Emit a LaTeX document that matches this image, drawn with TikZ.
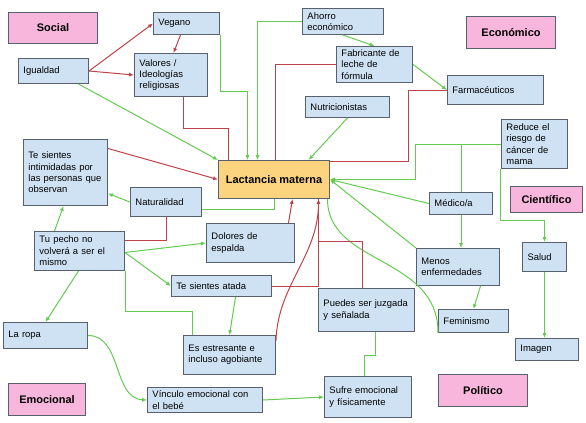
\documentclass[tikz,border=0pt]{standalone}
\usepackage{fontspec}
\setmainfont{Liberation Sans}
\usepackage{tikz}
\usetikzlibrary{arrows.meta}
\definecolor{boxblue}{RGB}{207,226,243}
\definecolor{boxline}{RGB}{88,96,110}
\definecolor{catpink}{RGB}{248,182,220}
\definecolor{mainorange}{RGB}{252,212,128}
\definecolor{lgreen}{RGB}{100,202,80}
\definecolor{dred}{RGB}{190,66,74}

\begin{document}
\begin{tikzpicture}[x=0.025cm, y=-0.025cm,
  cbox/.style={draw=boxline, line width=0.71pt, fill=boxblue, align=left,
    inner xsep=0.125cm, inner ysep=0pt, font=\fontsize{6.7}{8.1}\selectfont},
  cat/.style={draw=boxline, line width=0.71pt, fill=catpink, align=center,
    inner sep=0pt, font=\fontsize{7.8}{9}\selectfont\bfseries},
  gl/.style={draw=lgreen, line width=0.71pt},
  rl/.style={draw=dred, line width=0.71pt},
  tip/.style={-{Latex[length=3.5pt,width=3pt]}}]
\useasboundingbox (-0.5,-0.5) rectangle (585.5,421.5);
% ---- categories
\node[cat, minimum width=2.225cm, minimum height=0.775cm] (social) at (52.5,27.5) {Social};
\node[cat, minimum width=2.225cm, minimum height=0.8cm] (economico) at (510.5,32) {Económico};
\node[cat, minimum width=1.8cm, minimum height=0.65cm] (cientifico) at (546,199) {Científico};
\node[cat, minimum width=1.925cm, minimum height=0.8cm] (emocional) at (46.5,399) {Emocional};
\node[cat, minimum width=2.225cm, minimum height=0.8cm] (politico) at (482.5,390) {Político};
% ---- centre
\node[cat, fill=mainorange, minimum width=2.775cm, minimum height=0.95cm] (lact) at (273.5,179) {Lactancia materna};
% ---- top
\node[cbox, text width=1.4cm, minimum height=0.55cm] (vegano) at (186,23) {Vegano};
\node[cbox, text width=1.5cm, minimum height=0.625cm] (igualdad) at (53,70.5) {Igualdad};
\node[cbox, text width=1.575cm, minimum height=1.075cm] (valores) at (170.5,74.5) {Valores /\\Ideologías\\religiosas};
\node[cbox, text width=1.775cm, minimum height=0.65cm] (ahorro) at (342.5,21) {Ahorro\\económico};
\node[cbox, text width=1.65cm, minimum height=0.9cm] (fabricante) at (374,64) {Fabricante de\\leche de\\fórmula};
\node[cbox, text width=1.85cm, minimum height=0.525cm] (nutri) at (347,106.5) {Nutricionistas};
\node[cbox, text width=2.15cm, minimum height=0.725cm] (farma) at (495,89.5) {Farmacéuticos};
% ---- right
\node[cbox, text width=1.4cm, minimum height=1.225cm] (reduce) at (534,143.5) {Reduce el\\riesgo de\\cáncer de\\mama};
\node[cbox, text width=1.325cm, minimum height=0.55cm] (medico) at (460.5,203) {Médico/a};
\node[cbox, text width=1.825cm, minimum height=0.925cm] (menos) at (457.5,266.5) {Menos\\enfermedades};
\node[cbox, text width=0.85cm, minimum height=0.725cm] (salud) at (544,256.5) {Salud};
\node[cbox, text width=1.5cm, minimum height=0.575cm] (feminismo) at (473,320.5) {Feminismo};
\node[cbox, text width=1.325cm, minimum height=0.55cm] (imagen) at (546.5,349) {Imagen};
% ---- left
\node[cbox, text width=1.85cm, minimum height=1.65cm] (intimid) at (65,172) {Te sientes\\intimidadas por\\las personas que\\observan};
\node[cbox, text width=1.525cm, minimum height=0.725cm] (natural) at (165.5,201.5) {Naturalidad};
\node[cbox, text width=2.0cm, minimum height=0.975cm] (pecho) at (79,250.5) {Tu pecho no\\volverá a ser el\\mismo};
\node[cbox, text width=1.95cm, minimum height=0.975cm] (dolores) at (250,242.5) {Dolores de\\espalda};
\node[cbox, text width=2.25cm, minimum height=0.525cm] (atada) at (221,285.5) {Te sientes atada};
\node[cbox, text width=1.85cm, minimum height=0.65cm] (ropa) at (45,335) {La ropa};
\node[cbox, text width=2.05cm, minimum height=0.975cm] (estres) at (229,354.5) {Es estresante e\\incluso agobiante};
\node[cbox, text width=2.625cm, minimum height=0.625cm] (vinculo) at (204.5,399.5) {Vínculo emocional con\\el bebé};
\node[cbox, text width=2.15cm, minimum height=1.075cm] (juzgada) at (366,309.5) {Puedes ser juzgada\\y señalada};
\node[cbox, text width=1.925cm, minimum height=1.025cm] (sufre) at (367.5,396.5) {Sufre emocional\\y físicamente};
% ---- connectors, top
\draw[rl, tip] (igualdad.east) -- (vegano.west);
\draw[rl, tip] (igualdad.east) -- (valores.west);
\draw[rl, tip] (vegano.south -| 180,0) -- (valores.north -| 173,0);
\draw[gl, tip] (igualdad.south -| 78,0) -- (lact.north west);
\draw[rl] (valores.south -| 183,0) |- (228,128) -- (lact.north -| 228,0);
\draw[gl, tip] (vegano.south east) |- (247,91) -- (lact.north -| 247,0);
\draw[gl, tip] (ahorro.west) -| (lact.north -| 257,0);
\draw[gl, tip] (ahorro.south) -- (fabricante.north);
\draw[rl] (fabricante.west) -| (lact.north -| 275,0);
\draw[gl, tip] (fabricante.east) -- (farma.west);
\draw[rl] (farma.west) -| (408,161) -- (lact.east |- 0,161);
\draw[gl, tip] (nutri.south) -- (lact.north -| 308,0);
% ---- connectors, right
\draw[gl, tip] (reduce.west) -| (415,179) -- (lact.east);
\draw[gl] (medico.north) |- (reduce.west);
\draw[gl, tip] (medico.west) -- (lact.east);
\draw[gl, tip] (medico.south) -- (menos.north -| medico.south);
\draw[gl, tip] (menos.north west) -- (lact.east);
\draw[gl, tip] (menos.south -| 480,0) -- (feminismo.north -| 473,0);
\draw[gl, tip] (reduce.south west) |- (544,220) -- (salud.north);
\draw[gl, tip] (salud.south) -- (imagen.north -| salud.south);
\draw[gl] (feminismo.south west) .. controls (438,255) and (327,265) .. (lact.south east -| 327,0);
% ---- connectors, left and bottom
\draw[rl, tip] (intimid.east |- 0,148) -- (lact.west);
\draw[gl, tip] (natural.west) -- (intimid.east |- 0,193);
\draw[gl] (natural.east |- 0,209) -| (lact.south -| 274,0);
\draw[rl] (natural.south) |- (pecho.east |- 0,240);
\draw[gl, tip] (pecho.north -| 54,0) -- (intimid.south -| 63,0);
\draw[gl, tip] (pecho.east |- 0,252) -- (dolores.west);
\draw[gl, tip] (pecho.east |- 0,252) -- (atada.west);
\draw[gl] (pecho.south east) |- (192,311) -- (estres.north -| 192,0);
\draw[gl, tip] (pecho.south -| 78,0) -- (ropa.north);
\draw[gl, tip] (ropa.east) .. controls (122,335) and (112,398) .. (vinculo.west);
\draw[gl, tip] (vinculo.east) -- (sufre.west);
\draw[gl] (juzgada.south -| 375,0) |- (364,355) -- (sufre.north -| 364,0);
\draw[gl, tip] (atada.south -| 235,0) -- (estres.north -| 229,0);
\draw[rl, tip] (dolores.north -| 288,0) -- (lact.south -| 292,0);
\draw[rl, tip] (estres.east |- 0,340) .. controls (277,285) and (318,255) .. (lact.south -| 318,0);
\draw[rl] (atada.east) -| (lact.south -| 318,0);
\draw[rl] (juzgada.north -| 362,0) |- (318,241) -- (lact.south -| 318,0);
\end{tikzpicture}
\end{document}
